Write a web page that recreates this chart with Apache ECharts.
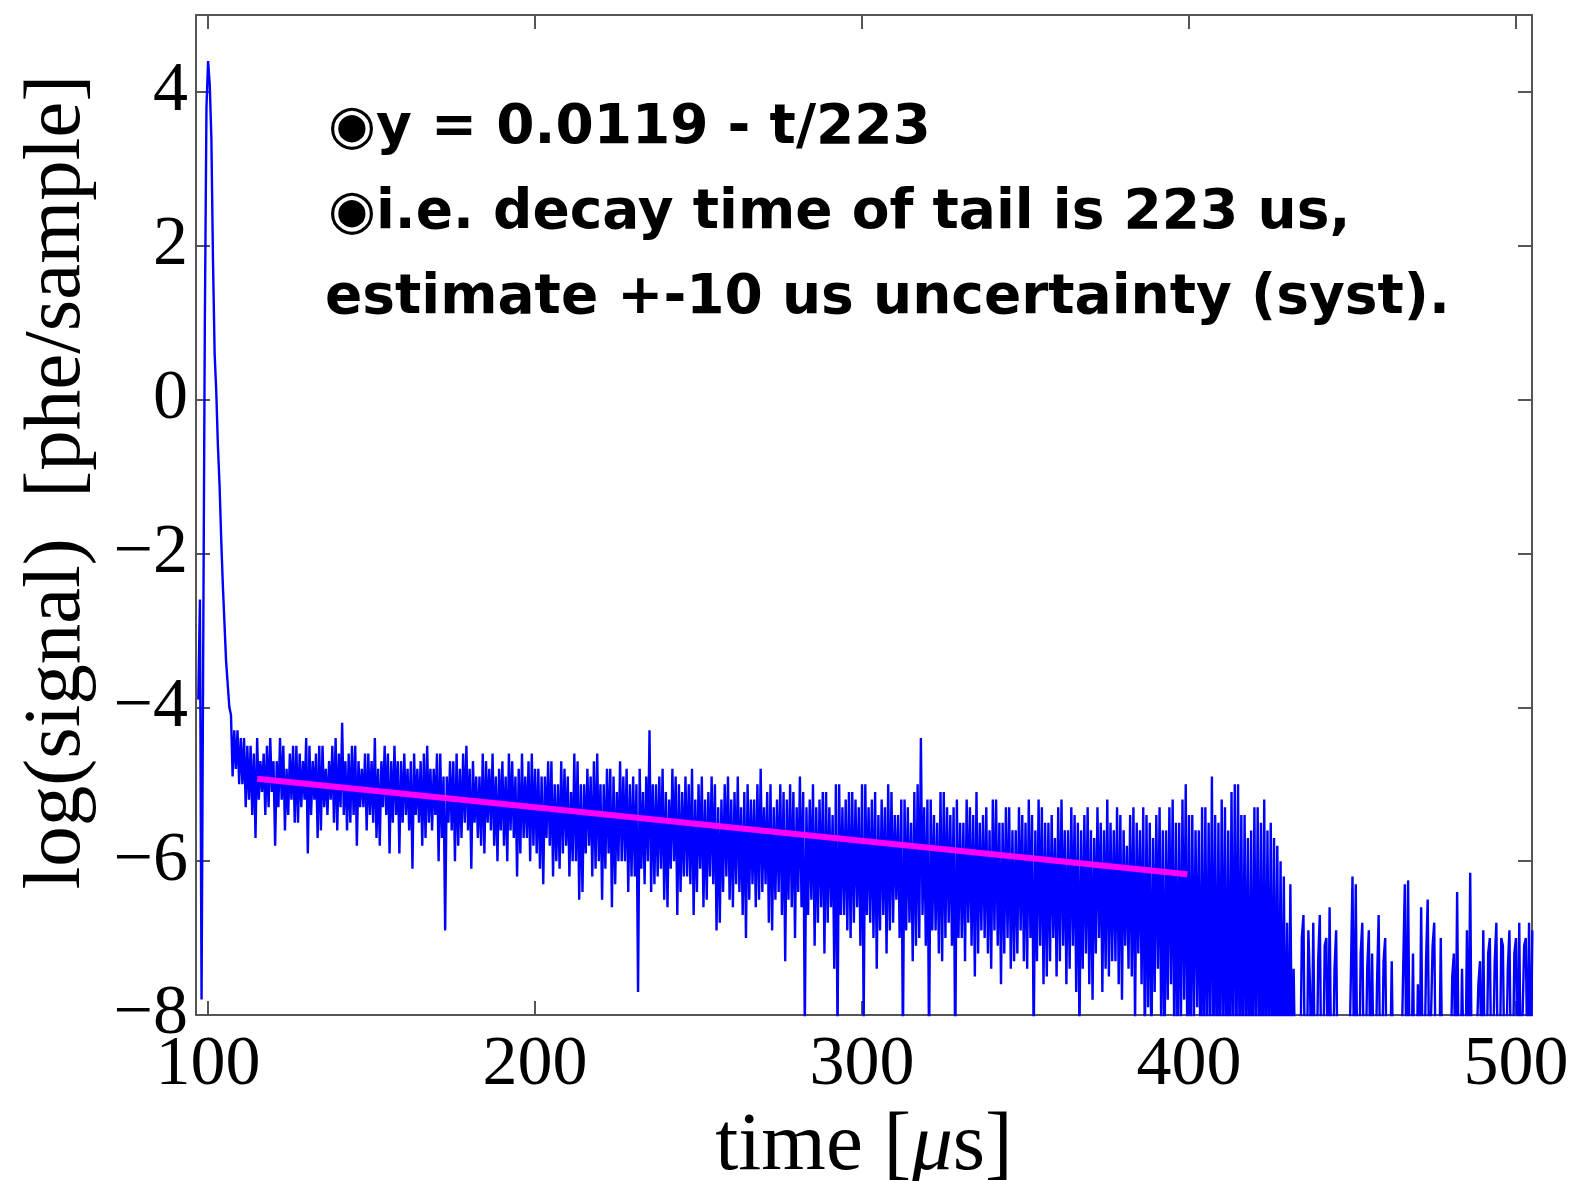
<!DOCTYPE html>
<html>
<head>
<meta charset="utf-8">
<script src="https://cdn.jsdelivr.net/npm/echarts@6/dist/echarts.min.js"></script>
<style>
html,body{margin:0;padding:0;background:#fff;}
#chart{width:1575px;height:1181px;}
</style>
</head>
<body>
<div id="chart"></div>
<script>
// ---- data ----
const sampleStart = 97;      // first sample time [us]
const sampleStep = 0.5;      // sample spacing [us]
// one row = 10 us (two samples per us)
const signal = [
  -3.9,-2.6, -7.8,-3.3, 1.0,3.8, 4.4,4.1, 3.4,1.8, 0.6,0.1, -0.6,-1.1, -1.8,-2.4, -2.9,-3.4, -3.7,-4.0,
  -4.1,-4.9, -4.3,-4.8, -4.3,-5.0, -4.4,-5.0, -4.4,-5.3, -4.5,-5.2, -4.5,-5.4, -4.6,-5.7, -4.4,-5.2, -4.7,-5.1,
  -4.6,-5.4, -4.5,-5.3, -4.4,-5.1, -4.7,-5.8, -4.7,-5.3, -4.4,-5.2, -4.5,-5.6, -4.8,-5.4, -4.6,-5.2, -4.5,-5.5,
  -4.5,-5.5, -4.6,-5.3, -4.7,-5.2, -4.4,-5.9, -4.5,-5.4, -4.7,-5.2, -4.6,-5.7, -4.5,-5.6, -4.5,-5.3, -4.8,-5.4,
  -4.7,-5.2, -4.5,-5.5, -4.4,-5.6, -4.6,-5.3, -4.2,-5.4, -4.7,-5.6, -4.6,-5.5, -4.5,-5.4, -4.5,-5.8, -4.7,-5.3,
  -4.8,-5.3, -4.6,-5.6, -4.6,-5.4, -4.7,-5.5, -4.4,-5.7, -4.8,-5.8, -4.7,-5.3, -4.5,-5.4, -4.6,-5.9, -4.7,-5.5,
  -4.5,-5.4, -4.7,-5.9, -4.7,-5.5, -4.6,-5.4, -4.8,-5.6, -4.7,-6.1, -4.6,-5.4, -4.8,-5.5, -4.7,-5.8, -4.6,-5.7,
  -4.5,-5.5, -4.8,-5.6, -4.8,-5.4, -4.6,-6.0, -4.6,-5.7, -4.9,-6.9, -4.9,-5.5, -4.7,-5.6, -4.7,-6.0, -4.6,-5.8,
  -4.8,-5.7, -4.6,-5.5, -4.5,-5.6, -4.8,-6.1, -4.7,-5.5, -4.9,-5.7, -4.9,-5.8, -4.6,-5.9, -4.7,-5.5, -4.8,-5.6,
  -4.6,-5.8, -4.9,-6.0, -4.8,-5.6, -4.7,-5.8, -4.9,-6.0, -4.6,-5.6, -4.7,-5.7, -4.9,-6.2, -4.8,-5.9, -4.6,-5.7,
  -4.9,-5.7, -4.7,-6.0, -4.6,-5.8, -4.8,-5.9, -4.8,-6.1, -4.9,-6.3, -4.9,-5.7, -4.7,-5.8, -4.7,-6.2, -5.0,-6.0,
  -5.0,-6.1, -4.7,-5.9, -4.8,-5.8, -4.9,-6.2, -5.1,-6.0, -4.6,-6.0, -4.7,-6.5, -5.0,-6.4, -5.0,-5.9, -4.8,-5.8,
  -4.9,-6.2, -4.7,-6.1, -4.6,-6.0, -5.0,-6.5, -5.0,-6.1, -4.8,-5.9, -4.8,-6.6, -4.9,-6.3, -5.1,-6.0, -4.7,-6.0,
  -4.9,-6.0, -4.8,-6.4, -5.0,-6.2, -4.9,-6.2, -5.0,-7.7, -4.8,-6.1, -5.1,-6.3, -4.9,-6.0, -4.3,-6.4, -5.0,-6.3,
  -5.0,-6.2, -4.9,-6.1, -4.8,-6.5, -5.1,-6.6, -5.2,-6.1, -4.8,-6.0, -4.9,-6.7, -5.0,-6.4, -5.1,-6.2, -4.9,-6.2,
  -5.0,-6.3, -4.8,-6.7, -5.2,-6.4, -5.0,-6.1, -4.9,-6.6, -5.2,-6.5, -5.1,-6.2, -4.9,-6.3, -5.0,-6.9, -5.3,-6.8,
  -5.2,-6.4, -5.0,-6.2, -4.9,-6.5, -5.2,-6.6, -5.1,-6.3, -4.9,-6.4, -5.3,-6.7, -5.1,-7.0, -5.0,-6.5, -5.2,-6.3,
  -5.2,-6.6, -5.0,-6.5, -4.8,-6.4, -5.3,-6.3, -5.1,-6.8, -5.0,-6.9, -5.3,-6.5, -5.2,-6.4, -5.0,-6.7, -5.1,-7.3,
  -5.2,-6.5, -5.0,-6.6, -5.1,-7.0, -5.3,-6.4, -4.9,-6.6, -5.1,-8.2, -5.3,-6.7, -5.2,-6.5, -5.0,-7.1, -5.3,-6.8,
  -5.2,-6.6, -5.1,-7.2, -5.1,-6.8, -5.3,-6.6, -5.4,-7.4, -5.0,-8.3, -5.0,-6.7, -5.3,-6.7, -5.2,-6.9, -5.1,-7.0,
  -5.1,-6.8, -5.2,-6.6, -5.3,-7.1, -5.0,-8.1, -5.0,-6.7, -5.3,-6.8, -5.2,-7.0, -5.1,-7.4, -5.4,-6.9, -5.2,-6.7,
  -5.3,-7.2, -5.0,-6.9, -5.1,-6.8, -5.4,-6.5, -5.4,-7.0, -5.2,-8.4, -5.2,-6.9, -5.3,-6.8, -5.5,-7.3, -5.1,-7.1,
  -5.0,-7.0, -4.4,-6.7, -5.3,-7.1, -5.2,-8.5, -5.2,-6.9, -5.4,-6.9, -5.5,-7.2, -5.1,-7.3, -5.1,-7.0, -5.3,-6.8,
  -5.4,-7.1, -5.3,-8.6, -5.2,-7.0, -5.5,-7.0, -5.5,-7.3, -5.2,-6.8, -5.3,-7.1, -5.4,-7.5, -5.1,-7.2, -5.5,-6.9,
  -5.4,-7.0, -5.3,-7.2, -5.6,-7.4, -5.2,-6.9, -5.2,-7.1, -5.5,-7.6, -5.5,-7.2, -5.3,-7.0, -5.3,-7.4, -5.6,-7.3,
  -5.6,-7.2, -5.3,-6.9, -5.4,-7.3, -5.5,-7.4, -5.2,-7.0, -5.4,-8.4, -5.6,-7.3, -5.2,-7.1, -5.3,-7.6, -5.5,-7.5,
  -5.5,-7.3, -5.4,-7.0, -5.7,-7.5, -5.3,-7.3, -5.2,-7.1, -5.6,-7.6, -5.6,-7.4, -5.3,-7.1, -5.4,-7.7, -5.5,-8.3,
  -5.6,-7.4, -5.4,-7.2, -5.3,-7.6, -5.6,-7.8, -5.7,-7.2, -5.3,-7.0, -5.5,-7.7, -5.6,-7.4, -5.2,-7.5, -5.5,-7.3,
  -5.6,-7.3, -5.3,-7.6, -5.4,-7.8, -5.6,-7.1, -5.8,-7.4, -5.4,-7.5, -5.3,-8.1, -5.5,-7.2, -5.6,-7.6, -5.3,-8.5,
  -5.4,-7.9, -5.5,-8.6, -5.7,-7.7, -5.4,-7.4, -5.3,-8.2, -5.6,-8.7, -5.6,-7.8, -5.3,-7.6, -5.2,-8.4, -5.5,-8.5,
  -5.5,-8.3, -5.2,-7.8, -5.0,-8.6, -5.4,-8.6, -5.4,-8.1, -5.6,-7.9, -5.6,-8.8, -5.3,-8.7, -5.3,-8.5, -5.5,-8.4,
  -4.9,-8.6, -5.4,-8.8, -5.5,-8.7, -5.2,-8.5, -5.3,-8.9, -5.6,-8.9, -5.1,-8.6, -5.0,-8.6, -5.0,-8.8, -5.4,-8.7,
  -5.4,-8.5, -5.7,-8.8, -5.6,-8.9, -5.3,-8.5, -5.3,-8.7, -5.5,-8.9, -5.2,-8.8, -5.6,-8.6, -5.5,-8.9, -5.7,-8.7,
  -5.8,-8.8, -6.0,-8.9, -6.2,-9.0, -6.8,-9.0, -6.3,-8.9, -7.4,-8.8, -9.2,-9.0, -8.9,-7.0, -6.7,-9.1, -9.0,-6.9,
  -7.6,-9.0, -6.8,-8.9, -9.1,-7.3, -6.7,-9.0, -8.9,-7.1, -7.0,-9.0, -6.6,-8.8, -9.0,-7.4, -6.9,-9.1, -8.8,-9.0,
  -9.2,-9.0, -9.0,-8.9, -8.7,-7.5, -6.2,-8.9, -6.3,-9.0, -9.1,-7.2, -6.8,-9.0, -8.8,-7.4, -6.9,-9.1, -7.2,-8.9,
  -9.0,-7.6, -6.7,-9.0, -8.9,-7.3, -7.0,-9.1, -9.1,-8.8, -7.3,-9.0, -9.2,-8.9, -9.0,-9.1, -8.6,-7.4, -6.3,-9.0,
  -6.25,-8.8, -8.9,-7.2, -9.1,-9.0, -7.6,-9.0, -6.6,-8.9, -8.8,-7.3, -6.5,-9.0, -9.0,-7.1, -6.8,-9.1, -8.7,-8.9,
  -7.0,-9.0, -9.1,-8.9, -9.0,-9.1, -8.8,-7.5, -7.2,-9.0, -6.4,-8.9, -9.0,-7.4, -8.7,-9.0, -6.9,-8.8, -6.15,-9.0,
  -8.9,-9.1, -9.1,-7.6, -7.3,-9.0, -6.9,-8.9, -8.8,-7.2, -7.0,-9.0, -8.6,-7.3, -6.8,-9.1, -9.0,-7.0, -7.1,-8.9,
  -8.7,-7.4, -6.9,-9.0, -8.9,-7.2, -7.0,-8.9, -6.8,-9.0, -9.0,-7.1, -7.0,-8.8, -6.8,-9.0, -6.9
];
const fitT = [115, 399.5];
const fitY = [-4.93, -6.17];
const xTicks = [100, 200, 300, 400, 500];
const yTicks = [-8, -6, -4, -2, 0, 2, 4];
const xName = 'time [';
const yName = 'log(signal)  [phe/sample]';
const noteLines = [
  '\u25C9y = 0.0119 - t/223',
  '\u25C9i.e. decay time of tail is 223 us,',
  'estimate +-10 us uncertainty (syst).'
];

// ---- build series data ----
const signalData = signal.map((v, i) => [sampleStart + i * sampleStep, v]);
const fitData = fitT.map((t, i) => [t, fitY[i]]);

const serif = '"Liberation Serif", "DejaVu Serif", serif';
const noteFont = 'bold 55px "DejaVu Sans", sans-serif';
const axisCol = '#555';
const fmtY = v => (v < 0 ? '\u2212' + Math.abs(v) : String(v));

const chart = echarts.init(document.getElementById('chart'), null, {renderer: 'canvas'});
const xBase = {
  type: 'value', min: 96.3, max: 504.9,
  axisLine: {show: true, onZero: false, lineStyle: {color: axisCol, width: 2}},
  axisTick: {show: true, inside: true, length: 14, customValues: xTicks, lineStyle: {color: axisCol, width: 2}},
  splitLine: {show: false}
};
const yBase = {
  type: 'value', min: -8, max: 5,
  axisLine: {show: true, onZero: false, lineStyle: {color: axisCol, width: 2}},
  axisTick: {show: true, inside: true, length: 14, customValues: yTicks, lineStyle: {color: axisCol, width: 2}},
  splitLine: {show: false}
};

chart.setOption({
  animation: false,
  backgroundColor: '#fff',
  grid: {left: 196, right: 43, top: 15, bottom: 166, containLabel: false, outerBoundsMode: 'none'},
  xAxis: [
    Object.assign({}, xBase, {
      position: 'bottom',
      axisLabel: {show: true, customValues: xTicks, color: '#000', fontFamily: serif, fontSize: 70, margin: 16},
      name: xName + '{i|\u03BC}s]',
      nameLocation: 'middle', nameGap: 82,
      nameTextStyle: {color: '#000', fontFamily: serif, fontSize: 83,
        rich: {i: {fontFamily: serif, fontSize: 83, fontStyle: 'italic', color: '#000'}}}
    }),
    Object.assign({}, xBase, {position: 'top', axisLabel: {show: false}})
  ],
  yAxis: [
    Object.assign({}, yBase, {
      position: 'left',
      axisLabel: {show: true, customValues: yTicks, formatter: fmtY, color: '#000', fontFamily: serif, fontSize: 70, margin: 8}
    }),
    Object.assign({}, yBase, {position: 'right', axisLabel: {show: false}})
  ],
  graphic: [
    {type: 'text', x: 58, y: 482, rotation: Math.PI / 2, silent: true,
      style: {text: yName, font: '81px ' + serif, fill: '#000', textAlign: 'center', textVerticalAlign: 'middle'}},
    {type: 'text', x: 328, y: 129, silent: true,
      style: {text: noteLines[0], font: noteFont, fill: '#000', textAlign: 'left', textVerticalAlign: 'middle'}},
    {type: 'text', x: 328, y: 214, silent: true,
      style: {text: noteLines[1], font: noteFont, fill: '#000', textAlign: 'left', textVerticalAlign: 'middle'}},
    {type: 'text', x: 325, y: 299, silent: true,
      style: {text: noteLines[2], font: noteFont, fill: '#000', textAlign: 'left', textVerticalAlign: 'middle'}}
  ],
  series: [
    {type: 'line', name: 'signal', data: signalData, showSymbol: false, symbol: 'none',
      lineStyle: {color: '#0000ff', width: 2.4, opacity: 1}, clip: true, z: 2},
    {type: 'line', name: 'fit', data: fitData, showSymbol: false, symbol: 'none',
      lineStyle: {color: '#ff00ff', width: 6}, clip: true, z: 3}
  ]
});
</script>
</body>
</html>
